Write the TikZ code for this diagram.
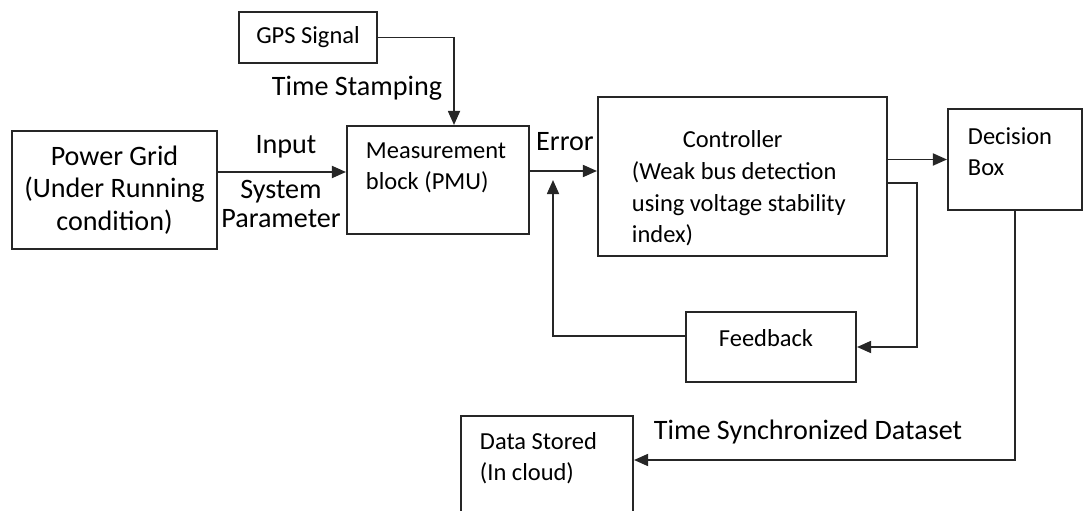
\documentclass[tikz,border=0pt]{standalone}
\usepackage{fontspec}
\setmainfont{Carlito}
\usetikzlibrary{arrows.meta}

\begin{document}
\begin{tikzpicture}[x=0.025cm,y=-0.025cm,line width=1.4pt,draw=black!85,
  box/.style={draw,rectangle,inner sep=0pt},
  big/.style={font=\fontsize{20pt}{23pt}\selectfont,inner sep=0pt},
  small/.style={font=\fontsize{17.4pt}{22pt}\selectfont,inner sep=0pt}]
\tikzstyle{flow} = [draw,-{Triangle[length=10pt,width=8.5pt]}]

\clip (0,0) rectangle (1084,511);

% blocks
\node[box,small,minimum width=3.45cm,minimum height=1.275cm] (gps) at (308,37.5) {GPS Signal};
\node[box,big,align=center,minimum width=5.125cm,minimum height=2.95cm] (grid) at (114.5,190) {Power Grid\\(Under Running\\condition)};
\node[box,minimum width=4.55cm,minimum height=2.7cm] (pmu) at (438,180) {};
\node[box,minimum width=7.225cm,minimum height=3.975cm] (ctrl) at (742.5,176.5) {};
\node[box,minimum width=3.35cm,minimum height=2.525cm] (dec) at (1015,159.5) {};
\node[box,minimum width=4.25cm,minimum height=1.75cm] (fb) at (771,347) {};
\node[box,minimum width=4.3cm,minimum height=2.85cm] (store) at (547,473) {};

% texts inside the blocks
\node[small,anchor=west,align=left] (pmutext) at (365,167.5) {Measurement\\block (PMU)};
\node[small,anchor=west,align=left,font=\fontsize{17.4pt}{22.5pt}\selectfont] (ctrltext) at (631,188.5) {\hspace*{1.27cm}Controller\\(Weak bus detection\\using voltage stability\\index)};
\node[small,anchor=west,align=left] (dectext) at (967,151.5) {Decision\\Box};
\node[small] (fbtext) at (766,338) {Feedback};
\node[small,anchor=west,align=left] (storetext) at (479,458) {Data Stored\\(In cloud)};

% labels on the lines
\node[big] (stamp) at (357,88) {Time Stamping};
\node[big] (input) at (286,147) {Input};
\node[big,align=center] (param) at (281,204) {System\\[-3pt]Parameter};
\node[big] (err) at (565,142) {Error};
\node[big,anchor=west] (sync) at (653,432) {Time Synchronized Dataset};

% connections
\coordinate (tap) at (553,180);
\draw[flow] (gps.east) -| ([xshift=0.4cm]pmu.north);
\draw[flow] (grid.east |- 0,172) -- (pmu.west |- 0,172);
\draw[flow] (pmu.east |- 0,171) -- (ctrl.west |- 0,171);
\draw[flow] (ctrl.east |- dec.west) -- (dec.west);
\draw[flow] (ctrl.east |- 0,183) -- (917,183) |- (fb.east);
\draw[flow] (fb.west |- 0,336) -| (tap);
\draw[flow] (dec.south) |- (store.east |- 0,460);

\end{tikzpicture}
\end{document}
